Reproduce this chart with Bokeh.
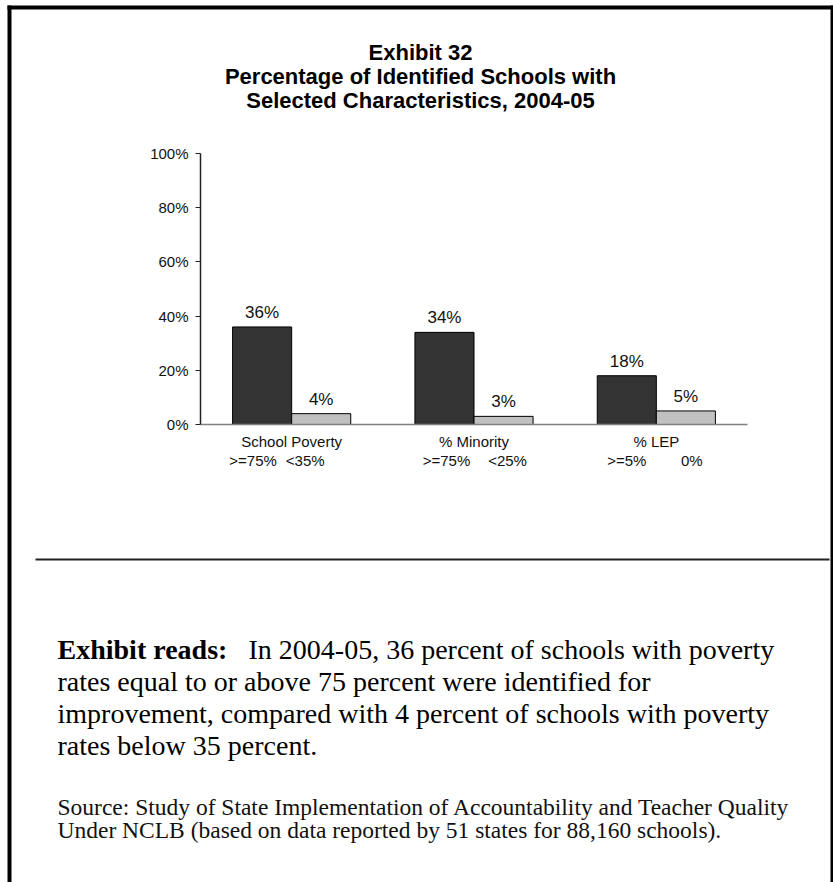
from bokeh.plotting import figure
from bokeh.models import (Range1d, ColumnDataSource, LabelSet, Label, BoxAnnotation,
                          PrintfTickFormatter, FixedTicker)
from bokeh.transform import dodge
from bokeh.core.properties import value
from bokeh.embed import file_html
from bokeh.resources import INLINE

# ---------------- data ----------------
categories = ["School Poverty", "% Minority", "% LEP"]
high_groups = [">=75%", ">=75%", ">=5%"]
low_groups = ["<35%", "<25%", "0%"]
high_values = [36, 34, 18]
low_values = [4, 3, 5]
y_ticks = [0, 20, 40, 60, 80, 100]

title_lines = ["Exhibit 32",
               "Percentage of Identified Schools with",
               "Selected Characteristics, 2004-05"]
reads_head = "Exhibit reads:"
reads_lines = ["In 2004-05, 36 percent of schools with poverty",
               "rates equal to or above 75 percent were identified for",
               "improvement, compared with 4 percent of schools with poverty",
               "rates below 35 percent."]
source_lines = ["Source:  Study of State Implementation of Accountability and Teacher Quality",
                "Under NCLB (based on data reported by 51 states for 88,160 schools)."]

# ---------------- layout (styling only) ----------------
W, H = 833, 882
AX_X0, AX_X1 = 200, 747      # pixel extent of the category axis
AX_Y0, AX_Y100 = 424, 153    # pixel rows of 0% and 100%
n = len(categories)
kx = (AX_X1 - AX_X0) / n
ky = (AX_Y0 - AX_Y100) / 100.0
high_label_nudge = [-9, 2, 0]    # px shifts of the sub-group captions
low_label_nudge = [-16, 4, 6]


def sx(px):
    return px


def sy(py):
    return H - py


p = figure(width=W, height=H,
           x_range=Range1d(-AX_X0 / kx, (W - AX_X0) / kx),
           y_range=Range1d(-(H - AX_Y0) / ky, 100 + AX_Y100 / ky),
           output_backend="svg", toolbar_location=None,
           min_border_left=0, min_border_right=0, min_border_top=0, min_border_bottom=0)
p.outline_line_color = None
p.xgrid.grid_line_color = None
p.ygrid.grid_line_color = None
p.background_fill_color = "white"
p.border_fill_color = "white"

centers = [i + 0.5 for i in range(n)]
src = ColumnDataSource(dict(
    xc=centers, high=high_values, low=low_values,
    high_txt=[f"{v}%" for v in high_values], low_txt=[f"{v}%" for v in low_values],
    high_grp=high_groups, low_grp=low_groups,
    high_nudge=high_label_nudge, low_nudge=low_label_nudge))

OFF, BW = 0.162, 0.324
p.vbar(x=dodge("xc", -OFF), top="high", width=BW, source=src,
       fill_color="#333333", line_color="#000000", line_width=1)
p.vbar(x=dodge("xc", OFF), top="low", width=BW, source=src,
       fill_color="#c0c0c0", line_color="#000000", line_width=1)

lab_kw = dict(text_align="center", text_baseline="alphabetic",
              text_font=value("Liberation Sans"), text_color="#111111")
p.add_layout(LabelSet(x=dodge("xc", -OFF), y="high", text="high_txt",
                      y_offset=9, source=src, text_font_size=value("17px"), **lab_kw))
p.add_layout(LabelSet(x=dodge("xc", OFF), y="low", text="low_txt",
                      y_offset=9, source=src, text_font_size=value("17px"), **lab_kw))
p.add_layout(LabelSet(x=dodge("xc", -OFF), y=sy(465), y_units="screen", x_offset="high_nudge",
                      text="high_grp", source=src, text_font_size=value("15px"), **lab_kw))
p.add_layout(LabelSet(x=dodge("xc", OFF), y=sy(465), y_units="screen", x_offset="low_nudge",
                      text="low_grp", source=src, text_font_size=value("15px"), **lab_kw))

# axes (fixed inside the frame)
xa = p.xaxis[0]
xa.fixed_location = 0
xa.bounds = (0, n)
xa.ticker = FixedTicker(ticks=centers)
xa.major_label_overrides = {c: name for c, name in zip(centers, categories)}
xa.axis_line_color = "#808080"
xa.axis_line_width = 1.5
xa.major_tick_line_color = None
xa.minor_tick_line_color = None
xa.major_tick_out = 0
xa.major_label_standoff = 8
xa.major_label_text_font = "Liberation Sans"
xa.major_label_text_font_size = "15px"
xa.major_label_text_color = "#111111"

ya = p.yaxis[0]
ya.fixed_location = 0
ya.bounds = (0, 100)
ya.ticker = FixedTicker(ticks=y_ticks)
ya.formatter = PrintfTickFormatter(format="%d%%")
ya.axis_line_color = "#222222"
ya.axis_line_width = 1.5
ya.major_tick_line_color = "#222222"
ya.major_tick_out = 5
ya.major_tick_in = 0
ya.minor_tick_line_color = None
ya.major_label_standoff = 7
ya.major_label_text_font = "Liberation Sans"
ya.major_label_text_font_size = "15px"
ya.major_label_text_color = "#111111"

# title
for line, by in zip(title_lines, [52, 76, 100]):
    p.add_layout(Label(x=sx(420), y=sy(by), x_units="screen", y_units="screen", text=line,
                       text_align="center", text_baseline="alphabetic",
                       text_font="Liberation Sans", text_font_style="bold",
                       text_font_size="22px", text_color="#000000"))

# page frame lines and separator
box_kw = dict(left_units="screen", right_units="screen", top_units="screen",
              bottom_units="screen", fill_color="#000000", fill_alpha=1.0,
              line_alpha=0.0, level="overlay")
p.add_layout(BoxAnnotation(left=sx(7), right=sx(11), top=sy(5), bottom=sy(H), **box_kw))
p.add_layout(BoxAnnotation(left=sx(7), right=sx(W), top=sy(5), bottom=sy(9), **box_kw))
p.add_layout(BoxAnnotation(left=sx(830), right=sx(W), top=sy(5), bottom=sy(H), **box_kw))
sep_kw = dict(box_kw)
sep_kw["fill_color"] = "#222222"
p.add_layout(BoxAnnotation(left=sx(35), right=sx(829), top=sy(558), bottom=sy(560), **sep_kw))

# exhibit reads paragraph
para_y = [649, 681, 713, 745]
p.add_layout(Label(x=sx(57), y=sy(para_y[0]), x_units="screen", y_units="screen",
                   text=reads_head, text_align="left", text_baseline="alphabetic",
                   text_font="Liberation Serif", text_font_style="bold",
                   text_font_size="28px", text_color="#000000"))
for i, (line, by) in enumerate(zip(reads_lines, para_y)):
    p.add_layout(Label(x=sx(248 if i == 0 else 57), y=sy(by), x_units="screen",
                       y_units="screen", text=line, text_align="left",
                       text_baseline="alphabetic", text_font="Liberation Serif",
                       text_font_size="28px", text_color="#000000"))
for line, by in zip(source_lines, [806, 829]):
    p.add_layout(Label(x=sx(57), y=sy(by), x_units="screen", y_units="screen", text=line,
                       text_align="left", text_baseline="alphabetic",
                       text_font="Liberation Serif", text_font_size="23.5px",
                       text_color="#111111"))

open("out.html", "w").write(file_html(p, INLINE))
